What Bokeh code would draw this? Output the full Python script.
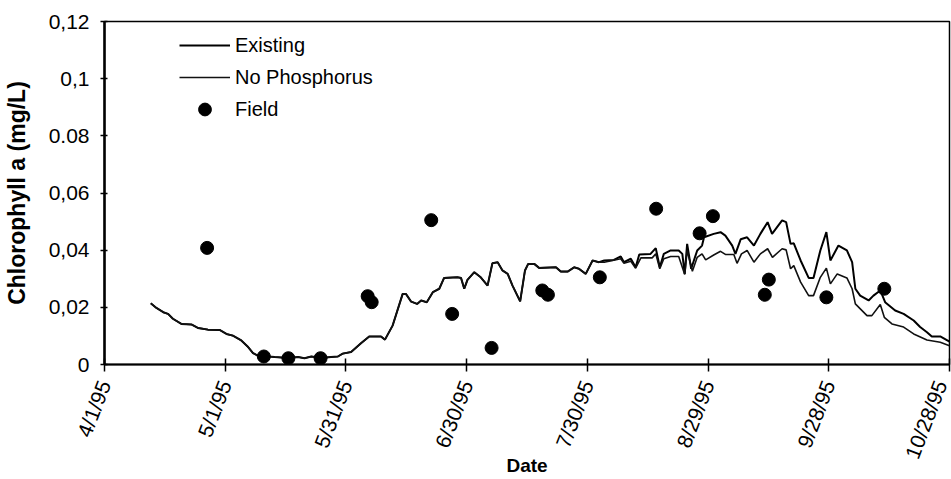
from bokeh.plotting import figure
from bokeh.models import FixedTicker, Legend, LegendItem
from bokeh.embed import file_html
from bokeh.resources import INLINE

# Days counted from 4/1/95
shared_days = [11.5, 12.9, 14.6, 15.8, 17.0, 19.1, 21.6, 23.2, 25.7, 28.6, 30.3, 31.9,
               34.0, 35.7, 36.9, 38.1, 42.3, 45.6, 48.1, 49.7, 51.4, 53.8, 56.3, 58.0,
               59.2, 61.3, 63.8, 65.8, 68.7, 69.7, 71.6, 74.1, 74.9, 76.2, 77.7, 78.7,
               80.1, 81.6, 83.2, 84.4, 87.7, 88.6, 89.4, 90.2, 91.9, 93.5, 95.2, 96.4,
               97.7, 98.9, 100.2, 101.4, 103.3, 104.5, 105.3, 106.8, 108.0, 112.2, 113.4,
               115.1, 116.7, 117.9, 119.6, 121.3, 122.9]
shared_vals = [0.0214, 0.0198, 0.0183, 0.0177, 0.0160, 0.0142, 0.0140, 0.0128, 0.0122,
               0.0121, 0.0107, 0.0101, 0.0084, 0.0061, 0.0040, 0.0031, 0.0026, 0.0023,
               0.0026, 0.0022, 0.0028, 0.0023, 0.0026, 0.0028, 0.0038, 0.0044, 0.0075,
               0.0098, 0.0098, 0.0087, 0.0136, 0.0247, 0.0247, 0.0220, 0.0212, 0.0224,
               0.0218, 0.0253, 0.0265, 0.0303, 0.0305, 0.0303, 0.0265, 0.0296, 0.0323,
               0.0305, 0.0276, 0.0354, 0.0358, 0.0329, 0.0317, 0.0276, 0.0221, 0.0329,
               0.0352, 0.0352, 0.0338, 0.0340, 0.0325, 0.0325, 0.0340, 0.0335, 0.0317,
               0.0364, 0.0358]

existing_days = [124.2, 126.6, 128.3, 129.1, 130.8, 132.0, 132.9, 135.7, 137.0, 138.0,
                 139.0, 140.7, 142.7, 143.6, 144.2, 144.8, 145.8, 147.3, 148.5, 149.0,
                 151.4, 153.1, 154.3, 156.0, 156.8, 158.1, 159.7, 161.4, 163.0, 164.8,
                 165.9, 168.4, 169.4, 170.5, 171.3, 173.0, 175.0, 176.2, 177.9, 179.4,
                 180.4, 182.4, 184.5, 185.8, 186.6, 187.8, 189.9, 191.1, 192.8, 194.0,
                 196.5, 198.6, 201.1, 202.7, 204.4, 205.6, 207.7, 210.0]
existing_vals = [0.0364, 0.0366, 0.0378, 0.0358, 0.0370, 0.0340, 0.0385, 0.0387, 0.0407,
                 0.0340, 0.0387, 0.0399, 0.0399, 0.0387, 0.0317, 0.0422, 0.0335, 0.0399,
                 0.0416, 0.0445, 0.0457, 0.0463, 0.0451, 0.0416, 0.0387, 0.0438, 0.0445,
                 0.0416, 0.0457, 0.0498, 0.0457, 0.0504, 0.0498, 0.0422, 0.0424, 0.0364,
                 0.0303, 0.0303, 0.0399, 0.0463, 0.0364, 0.0416, 0.0399, 0.0358, 0.0265,
                 0.0241, 0.0224, 0.0241, 0.0259, 0.0218, 0.0189, 0.0177, 0.0154, 0.0131,
                 0.0113, 0.0098, 0.0098, 0.0080]

nop_days = [124.2, 128.3, 129.1, 130.8, 132.0, 133.3, 136.1, 137.0, 138.0, 139.0, 140.7,
            142.7, 144.2, 144.8, 146.1, 147.3, 148.5, 149.4, 151.4, 153.1, 154.3, 156.4,
            157.2, 158.3, 159.7, 161.4, 163.0, 164.8, 166.0, 168.4, 169.4, 170.5, 171.3,
            173.0, 175.0, 176.2, 177.9, 179.4, 180.4, 182.1, 184.5, 185.8, 186.6, 189.5,
            190.7, 192.8, 193.8, 195.7, 198.6, 201.1, 204.4, 207.7, 210.0]
nop_vals = [0.0358, 0.0370, 0.0354, 0.0361, 0.0337, 0.0373, 0.0373, 0.0387, 0.0335,
            0.0370, 0.0378, 0.0378, 0.0315, 0.0399, 0.0326, 0.0375, 0.0387, 0.0366,
            0.0383, 0.0396, 0.0385, 0.0385, 0.0354, 0.0387, 0.0399, 0.0358, 0.0387,
            0.0405, 0.0375, 0.0405, 0.0401, 0.0335, 0.0346, 0.0288, 0.0241, 0.0241,
            0.0305, 0.0337, 0.0282, 0.0317, 0.0303, 0.0265, 0.0212, 0.0171, 0.0171,
            0.0210, 0.0165, 0.0142, 0.0131, 0.0107, 0.0086, 0.0078, 0.0066]

field_days = [25.5, 39.6, 45.7, 53.7, 65.4, 66.4, 81.2, 86.4, 96.2, 108.8, 110.2,
              123.1, 137.1, 147.9, 151.2, 165.1, 164.1, 179.4, 193.8]
field_vals = [0.0408, 0.0028, 0.0022, 0.0022, 0.0239, 0.0218, 0.0505, 0.0177, 0.0058,
              0.0259, 0.0244, 0.0305, 0.0545, 0.0459, 0.0519, 0.0297, 0.0244, 0.0235,
              0.0265]

x_tick_days = [0, 30, 60, 90, 120, 150, 180, 210]
x_tick_labels = ["4/1/95", "5/1/95", "5/31/95", "6/30/95", "7/30/95", "8/29/95",
                 "9/28/95", "10/28/95"]
y_ticks = [0, 0.02, 0.04, 0.06, 0.08, 0.1, 0.12]
y_tick_labels = ["0", "0,02", "0,04", "0,06", "0.08", "0,1", "0,12"]

FONT = "Liberation Sans"

p = figure(width=951, height=479, x_range=(0, 210), y_range=(0, 0.12),
           output_backend="svg", toolbar_location=None,
           min_border_left=103, min_border_right=2, min_border_top=21,
           min_border_bottom=115)
p.xgrid.visible = False
p.ygrid.visible = False
p.outline_line_color = "black"
p.outline_line_width = 1.5
p.background_fill_color = "white"
p.border_fill_color = "white"

r_exist = p.line(shared_days + existing_days, shared_vals + existing_vals,
                 line_color="black", line_width=2)
r_nop = p.line(shared_days + nop_days, shared_vals + nop_vals,
               line_color="#111111", line_width=1.6)
r_field = p.scatter(field_days, field_vals, size=13, marker="circle",
                    fill_color="black", line_color="black")

# axes
xa = p.xaxis[0]
xa.ticker = FixedTicker(ticks=x_tick_days)
xa.major_label_overrides = dict(zip(x_tick_days, x_tick_labels))
xa.major_label_orientation = 1.2
xa.major_label_text_font = FONT
xa.major_label_text_font_size = "21px"
xa.major_label_text_color = "black"
xa.major_label_standoff = 10
xa.major_tick_in = 6
xa.major_tick_out = 7
xa.minor_tick_line_color = None
xa.axis_line_width = 2
xa.axis_line_color = "black"
xa.major_tick_line_color = "black"
xa.major_tick_line_width = 1.5
xa.axis_label = "Date"
xa.axis_label_text_font = FONT
xa.axis_label_text_font_style = "bold"
xa.axis_label_text_font_size = "19px"
xa.axis_label_text_color = "black"
xa.axis_label_standoff = -14

ya = p.yaxis[0]
ya.ticker = FixedTicker(ticks=y_ticks)
ya.major_label_overrides = dict(zip(y_ticks, y_tick_labels))
ya.major_label_text_font = FONT
ya.major_label_text_font_size = "21px"
ya.major_label_text_color = "black"
ya.major_label_standoff = 11
ya.major_tick_in = 3
ya.major_tick_out = 4
ya.minor_tick_line_color = None
ya.axis_line_width = 2.5
ya.axis_line_color = "black"
ya.major_tick_line_color = "black"
ya.major_tick_line_width = 1.5
ya.axis_label = "Chlorophyll a (mg/L)"
ya.axis_label_text_font = FONT
ya.axis_label_text_font_style = "bold"
ya.axis_label_text_font_size = "23px"
ya.axis_label_text_color = "black"
ya.axis_label_standoff = 16

legend = Legend(items=[LegendItem(label="Existing", renderers=[r_exist]),
                       LegendItem(label="No Phosphorus", renderers=[r_nop]),
                       LegendItem(label="Field", renderers=[r_field])],
                location=(75, 239))
legend.border_line_color = None
legend.background_fill_alpha = 0
legend.padding = 0
legend.margin = 0
legend.spacing = 0
legend.glyph_width = 51
legend.glyph_height = 32
legend.label_standoff = 5
legend.label_text_font = FONT
legend.label_text_font_size = "20px"
legend.label_text_color = "black"
p.add_layout(legend)

open("out.html", "w").write(file_html(p, INLINE))
